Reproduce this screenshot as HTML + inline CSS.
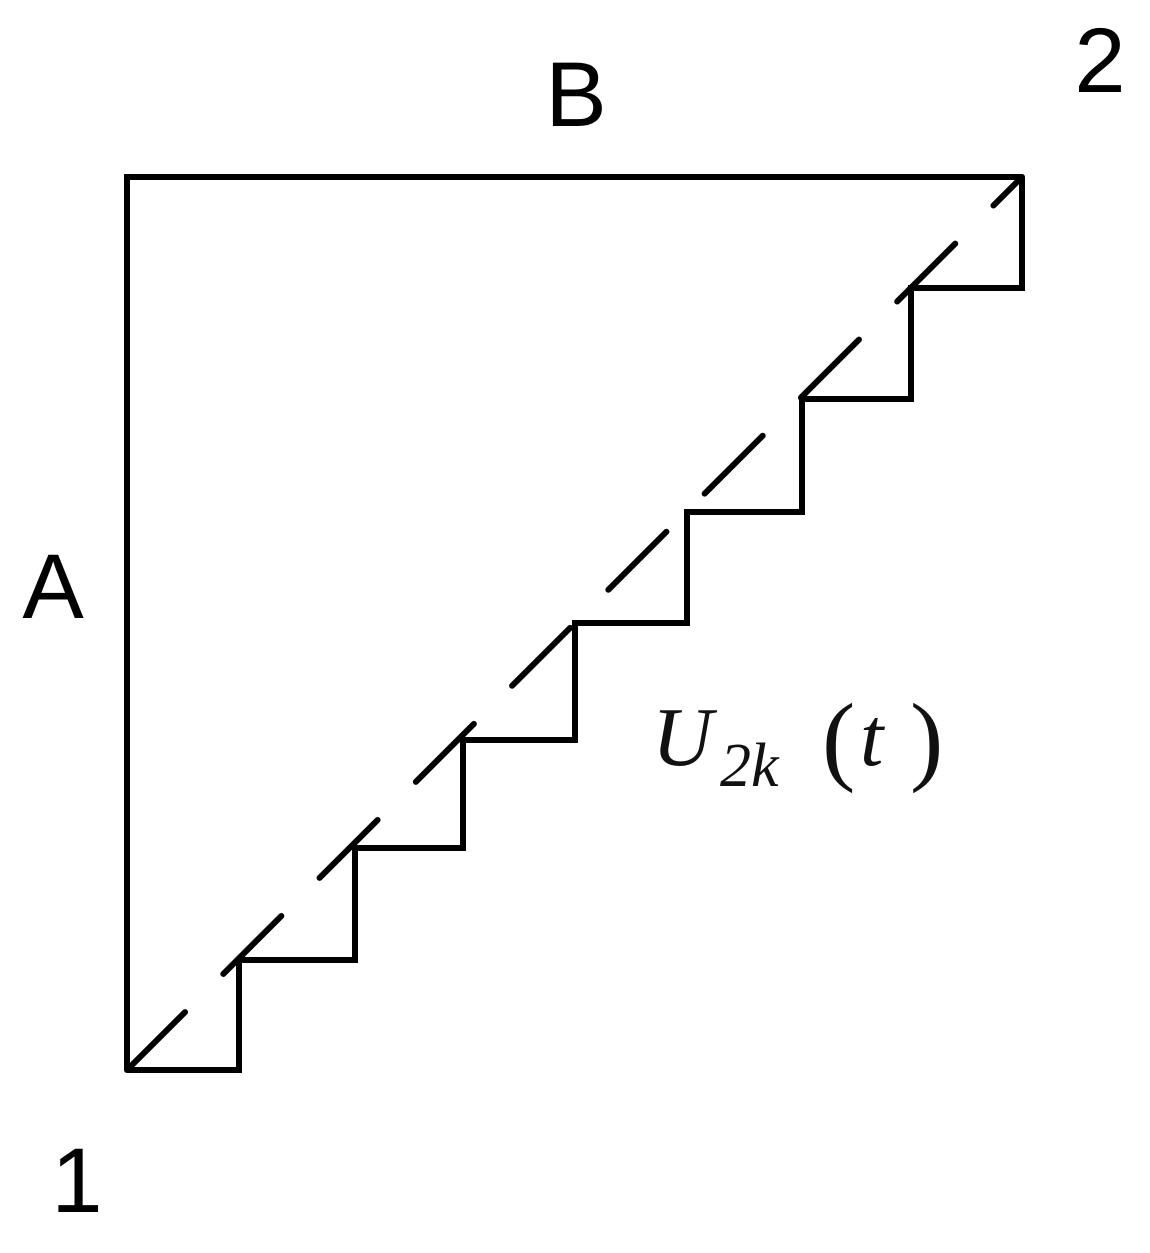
<!DOCTYPE html>
<html><head><style>html,body{margin:0;padding:0;background:#fff}</style></head>
<body>
<svg width="1150" height="1248" viewBox="0 0 1150 1248" xmlns="http://www.w3.org/2000/svg">
<g fill="none" stroke="#000" stroke-width="6">
<path d="M127,1070 L127,177 L1022,177" stroke-linejoin="miter"/>
<path d="M127,1070 L239,1070 L239,960 L355,960 L355,848 L463,848 L463,740 L575,740 L575,623 L687,623 L687,512 L802,512 L802,399 L911,399 L911,288 L1022,288 L1022,177"/>
<line x1="127" y1="1070" x2="1022" y2="177" stroke-linecap="round" stroke-dasharray="82 54"/>
</g>
<g font-family="Liberation Sans, sans-serif" font-size="92" fill="#000" text-anchor="middle">
<text x="576" y="126">B</text>
<text x="1100" y="92">2</text>
<text x="53" y="618">A</text>
<text x="77" y="1212">1</text>
</g>
<g font-family="Liberation Serif, serif" font-style="italic" fill="#111">
<text x="652" y="765" font-size="84">U</text>
<text x="720" y="786" font-size="62">2k</text>
<text x="822" y="772" font-size="100" font-style="normal">(</text>
<text x="860" y="765" font-size="84">t</text>
<text x="910" y="772" font-size="100" font-style="normal">)</text>
</g>
</svg>
</body></html>
